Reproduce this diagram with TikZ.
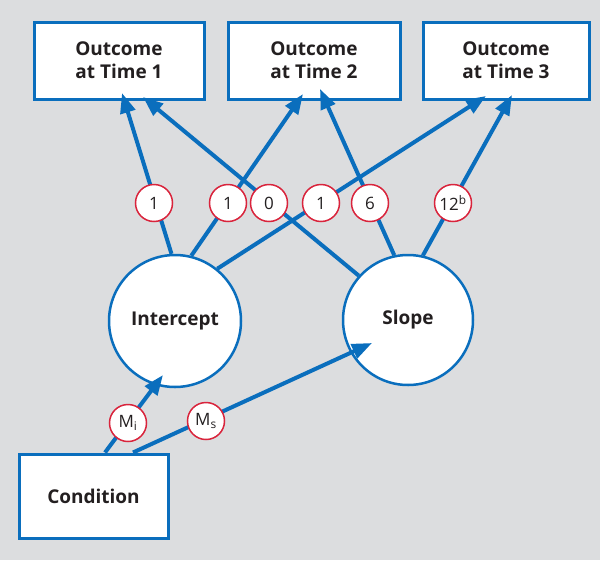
\documentclass[tikz,border=0pt]{standalone}
\usepackage{fontspec}
\setmainfont{Open Sans}
\usetikzlibrary{arrows.meta}
\definecolor{bgc}{HTML}{DCDDDF}
\definecolor{bl}{HTML}{0A6EBD}
\definecolor{rd}{HTML}{D9243C}
\definecolor{tx}{HTML}{231F20}
\tikzset{
  box/.style={draw=bl, line width=3pt, fill=white, align=center, text=tx, font=\fontsize{19}{23}\selectfont\bfseries, inner sep=0pt},
  bigc/.style={circle, draw=bl, line width=2.5pt, fill=white, minimum size=132pt, inner sep=0pt, text=tx, font=\fontsize{19}{23}\selectfont\bfseries},
  lab/.style={circle, draw=rd, line width=1.5pt, fill=white, minimum size=37pt, inner sep=0pt, text=tx, font=\fontsize{17}{19}\selectfont},
  arr/.style={draw=bl, line width=4pt, -{Triangle[length=20pt,width=15pt]}},
}
\begin{document}
\begin{tikzpicture}[x=1pt,y=-1pt]
\fill[bgc] (0,0) rectangle (600,560);
\useasboundingbox (0,0) rectangle (600,560);
% outcome boxes
\node[box, minimum width=170pt, minimum height=77pt] (t1) at (119,60.5) {Outcome\\at Time 1};
\node[box, minimum width=172pt, minimum height=77pt] (t2) at (314,60.5) {Outcome\\at Time 2};
\node[box, minimum width=166pt, minimum height=77pt] (t3) at (506,60.5) {Outcome\\at Time 3};
\node[box, minimum width=149pt, minimum height=84pt] (cond) at (93.5,496) {Condition};
% latent circles
\node[bigc] (int) at (175,321) {Intercept};
\node[bigc, minimum size=130pt] (slo) at (408,320) {Slope};
% arrow tips
\coordinate (a1) at (122,93);
\coordinate (a2) at (143,97);
\coordinate (a3) at (303,94);
\coordinate (a4) at (320,89);
\coordinate (a5) at (486,96);
\coordinate (a6) at (512,95);
\coordinate (a7) at (163,375);
\coordinate (a8) at (372,343);
% connectors
\draw[arr] (int.93) -- (a1);
\draw[arr] (slo.138) -- (a2);
\draw[arr] (int.76) -- (a3);
\draw[arr] (int.51) -- (a5);
\draw[arr] (slo.102) -- (a4);
\draw[arr] (slo.77) -- (a6);
\draw[arr] ([xshift=11.5pt]cond.north) -- (a7);
\draw[arr] ([xshift=39.5pt]cond.north) -- (a8);
% labels
\node[lab] (l1) at (154,203) {1};
\node[lab] (l2) at (228,203) {1};
\node[lab] (l3) at (269,203) {0};
\node[lab] (l4) at (321,203) {1};
\node[lab] (l5) at (370,203) {6};
\node[lab] (l6) at (453,203) {12\textsuperscript{b}};
\node[lab] (l7) at (128,423) {M\textsubscript{i}};
\node[lab] (l8) at (206,421) {M\textsubscript{s}};
\end{tikzpicture}
\end{document}
